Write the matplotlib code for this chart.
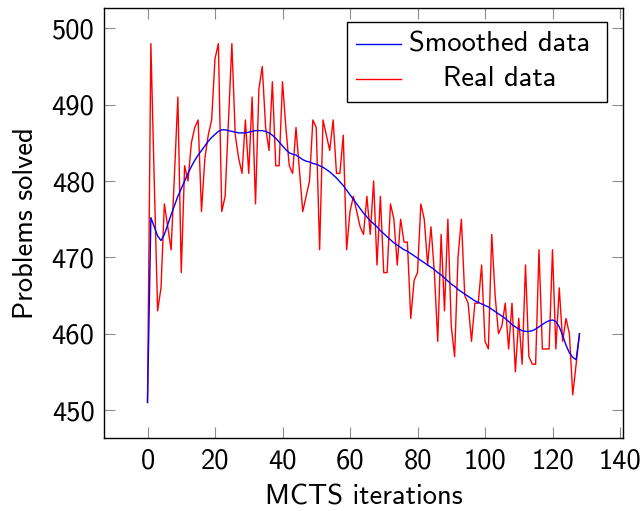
import matplotlib

matplotlib.use("Agg")
import matplotlib.pyplot as plt
from matplotlib.lines import Line2D
from matplotlib.patches import Rectangle

plt.rcParams["font.family"] = ["cmss10", "DejaVu Sans"]
plt.rcParams["axes.unicode_minus"] = False

# MCTS iteration index 0..128
iterations = list(range(129))

real_data = [
    451, 498, 480, 463, 466, 477, 474, 471, 481, 491,
    468, 482, 480, 485, 487, 488, 476, 483, 486, 488,
    496, 498, 476, 478, 488, 498, 486, 483, 481, 488,
    481, 491, 477, 492, 495, 487, 484, 493, 482, 482,
    493, 487, 482, 481, 487, 481.5, 476, 478, 480, 488,
    487, 471, 488, 486, 484, 488, 481, 481, 486, 471,
    476, 478, 476, 474, 473, 478, 473, 480, 469, 478,
    468, 468, 477, 475, 469, 475, 472, 472, 462, 467,
    468, 477, 475, 469, 474, 468, 459, 473, 463, 475,
    461, 457, 470, 475, 465, 464, 459, 464, 464, 469,
    459, 458, 473, 465, 460, 461, 464, 458, 464, 455,
    462, 456, 469, 457, 456, 456, 471, 458, 458, 458,
    471, 458, 466, 459, 462, 460, 452, 456, 460,
]

smoothed_data = [
    451.0, 475.2, 474.0, 472.8, 472.2, 473.0, 474.3, 475.6, 476.8, 478.0,
    479.0, 480.0, 481.0, 481.9, 482.7, 483.4, 484.0, 484.6, 485.2, 485.7,
    486.1, 486.5, 486.7, 486.7, 486.6, 486.5, 486.4, 486.3, 486.3, 486.3,
    486.4, 486.5, 486.6, 486.6, 486.6, 486.5, 486.3, 486.0, 485.6, 485.1,
    484.6, 484.1, 483.7, 483.5, 483.4, 483.1, 482.8, 482.6, 482.5, 482.3,
    482.2, 482.0, 481.8, 481.5, 481.2, 480.8, 480.4, 479.9, 479.4, 478.8,
    478.2, 477.6, 477.0, 476.4, 475.8, 475.3, 474.8, 474.4, 474.0, 473.5,
    473.1, 472.7, 472.3, 471.9, 471.6, 471.3, 471.0, 470.8, 470.5, 470.2,
    469.9, 469.6, 469.3, 469.0, 468.7, 468.4, 468.0, 467.7, 467.3, 466.9,
    466.5, 466.2, 465.8, 465.5, 465.2, 464.9, 464.6, 464.3, 464.1, 463.9,
    463.7, 463.5, 463.2, 462.9, 462.6, 462.3, 462.0, 461.6, 461.2, 460.9,
    460.6, 460.4, 460.3, 460.3, 460.4, 460.6, 460.9, 461.2, 461.5, 461.7,
    461.8, 461.6, 460.9, 459.8, 458.5, 457.5, 456.9, 456.6, 460.0,
]

labels = ["Smoothed data", "Real data"]
x_ticks = [0, 20, 40, 60, 80, 100, 120, 140]
y_ticks = [450, 460, 470, 480, 490, 500]

W, H = 644, 511
FS = 20.5

fig = plt.figure(figsize=(W / 100, H / 100), dpi=100)
ax_l, ax_t, ax_r, ax_b = 104.3, 7.7, 622.7, 438.3
ax = fig.add_axes([ax_l / W, 1 - ax_b / H, (ax_r - ax_l) / W, (ax_b - ax_t) / H])

ax.plot(iterations, real_data, color="red", lw=1.0, zorder=2)
ax.plot(iterations, smoothed_data, color="blue", lw=1.0, zorder=3)

# pgfplots-style 10% enlargement of the data range
xr = max(iterations) - min(iterations)
ax.set_xlim(min(iterations) - 0.1 * xr, max(iterations) + 0.1 * xr)
yr = max(real_data) - min(real_data)
ax.set_ylim(min(real_data) - 0.1 * yr, max(real_data) + 0.1 * yr)

ax.set_xticks(x_ticks)
ax.set_yticks(y_ticks)
ax.tick_params(direction="in", length=7.6, width=0.8, color="#8c8c8c",
               labelsize=FS, top=True, right=True, pad=7)
for s in ax.spines.values():
    s.set_linewidth(1.0)

ax.set_xlabel("MCTS iterations", fontsize=FS, labelpad=8)
ax.set_ylabel("Problems solved", fontsize=FS, labelpad=10)


# legend drawn by hand so entries can be centred like pgfplots
def to_ax(px, py):
    return (px - ax_l) / (ax_r - ax_l), 1 - (py - ax_t) / (ax_b - ax_t)


x0, y1 = to_ax(347.3, 21.7)
x1, y0 = to_ax(606.7, 101.7)
ax.add_patch(Rectangle((x0, y0), x1 - x0, y1 - y0, transform=ax.transAxes,
                       facecolor="white", edgecolor="black", lw=1.0, zorder=5))
for label, color, py in zip(labels, ["blue", "red"], [44, 79]):
    hx0, hy = to_ax(356, py)
    hx1, _ = to_ax(401, py)
    ax.add_line(Line2D([hx0, hx1], [hy, hy], transform=ax.transAxes,
                       color=color, lw=1.0, zorder=6))
    tx, _ = to_ax(500, py)
    ax.text(tx, hy, label, transform=ax.transAxes, fontsize=FS,
            ha="center", va="center", zorder=6)

fig.savefig("out.png", dpi=100)
